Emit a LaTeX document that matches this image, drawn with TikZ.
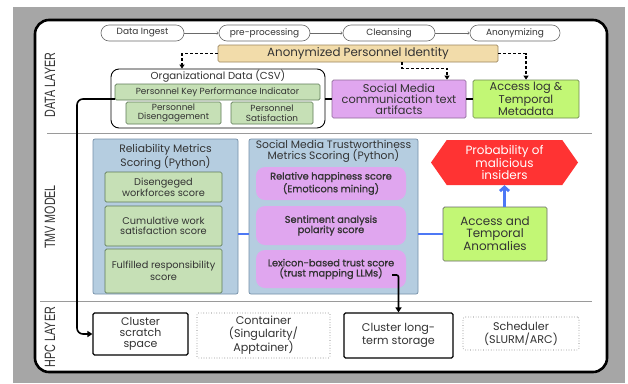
\documentclass[tikz,border=0pt]{standalone}
\usepackage{fontspec}
\setmainfont{Poppins}
\newfontfamily\labelfont{Liberation Sans}
\newfontfamily\popmed[FakeBold=1.2]{Poppins}
\usetikzlibrary{arrows.meta,shapes.symbols}

\definecolor{outergray}{HTML}{A6A6A6}
\definecolor{txt}{HTML}{333333}
\definecolor{pillgray}{HTML}{6A6A6A}
\definecolor{tanfill}{HTML}{F2DCAA}
\definecolor{tanline}{HTML}{9C8660}
\definecolor{sagefill}{HTML}{C6E0B6}
\definecolor{sageline}{HTML}{5F7A58}
\definecolor{lilac}{HTML}{E0A6EF}
\definecolor{lilacline}{HTML}{8E6A98}
\definecolor{lime}{HTML}{C2F775}
\definecolor{limeline}{HTML}{6E8A50}
\definecolor{steel}{HTML}{B5CDE0}
\definecolor{steelline}{HTML}{7590A8}
\definecolor{hexred}{HTML}{FF3333}
\definecolor{linkblue}{HTML}{4D78F5}
\definecolor{sepgray}{HTML}{9A9A9A}

\tikzset{
  pill/.style={draw=pillgray, line width=0.6bp, rounded corners=8bp,
    minimum height=16bp, inner sep=0pt, text=txt,
    font=\fontsize{9}{10}\selectfont},
  pilllink/.style={draw=pillgray, line width=0.6bp, -{Straight Barb[length=1.5bp,width=3bp]}},
  sagebox/.style={draw=sageline, fill=sagefill, line width=0.7bp, rounded corners=1.5bp,
    inner sep=0pt, text=txt, align=center, font=\fontsize{8.9}{9.6}\selectfont},
  tmvsage/.style={sagebox, font=\fontsize{9.8}{10}\selectfont},
  steelbox/.style={draw=steelline, fill=steel, line width=0.7bp, rounded corners=2bp, inner sep=0pt},
  lilacbox/.style={fill=lilac, rounded corners=9bp, inner sep=0pt, text=txt, align=center,
    font=\popmed\fontsize{9.8}{10.2}\selectfont},
  hpcbox/.style={draw=black, line width=1.1bp, rounded corners=1.5bp, inner sep=0pt,
    text=txt, align=center, font=\fontsize{11.2}{12.4}\selectfont},
  hpcdotted/.style={draw=pillgray, dotted, line width=0.6bp, rounded corners=1.5bp, inner sep=0pt,
    text=txt, align=center, font=\fontsize{11.2}{12.4}\selectfont},
  dasharrow/.style={draw=black, line width=1.2bp, dash pattern=on 3bp off 2bp,
    -{Triangle[length=4bp,width=5bp]}},
  blacklink/.style={draw=black, line width=1.3bp},
  bluelink/.style={draw=linkblue, line width=2.2bp},
  layerlabel/.style={rotate=90, text=txt, font=\labelfont\fontsize{15}{15}\selectfont},
}

\begin{document}
\begin{tikzpicture}[x=1bp, y=-1bp]
  \useasboundingbox (0,0) rectangle (628,383);
  % backdrop and main panel
  \fill[white] (0,0) rectangle (628,383);
  \fill[outergray] (13,7) rectangle (625,383);
  \draw[black, line width=2.6bp, fill=white, rounded corners=14bp] (35,20) rectangle (607,372);

  % layer separators
  \draw[sepgray, line width=1bp] (47,133) -- (592,133);
  \draw[sepgray, line width=1bp] (40,301) -- (592,301);

  % layer labels
  \node[layerlabel] (lblData) at (50,85) {\scalebox{0.72}[1]{DATA LAYER}};
  \node[layerlabel] (lblTmv) at (50,217) {\scalebox{0.72}[1]{TMV MODEL}};
  \node[layerlabel] (lblHpc) at (50,337) {\scalebox{0.72}[1]{HPC LAYER}};

  % ---------------- data layer ----------------
  \node[pill, minimum width=83bp] (ingest) at (142.5,33) {Data Ingest};
  \node[pill, minimum width=91bp] (prep) at (264.5,33) {pre-processing};
  \node[pill, minimum width=92bp] (clean) at (389,33) {Cleansing};
  \node[pill, minimum width=90bp] (anonz) at (515,33) {Anonymizing};
  \draw[pilllink] (ingest) -- (prep);
  \draw[pilllink] (prep) -- (clean);
  \draw[pilllink] (clean) -- (anonz);

  \node[draw=tanline, fill=tanfill, line width=0.7bp, rounded corners=1.5bp, inner sep=0pt,
        minimum width=280bp, minimum height=17bp, text=txt,
        font=\fontsize{11.9}{13}\selectfont] (anon) at (358,53.5) {Anonymized Personnel Identity};

  \node[draw=black, line width=0.9bp, rounded corners=8bp, minimum width=214bp,
        minimum height=59bp, inner sep=0pt] (org) at (218,98.5) {};
  \node[text=txt, font=\fontsize{10.2}{11}\selectfont, inner sep=0pt] (orgtitle) at (218,76.5)
        {Organizational Data (CSV)};
  \node[sagebox, minimum width=205bp, minimum height=16bp] (kpi) at (217.5,92)
        {Personnel Key Performance Indicator};
  \node[sagebox, minimum width=95bp, minimum height=22bp] (diseng) at (173.5,113)
        {Personnel\\Disengagement};
  \node[sagebox, minimum width=82bp, minimum height=22bp] (satis) at (272,113)
        {Personnel\\Satisfaction};

  \node[draw=lilacline, fill=lilac, line width=0.7bp, rounded corners=1.5bp, inner sep=0pt,
        minimum width=134bp, minimum height=38bp, text=txt, align=center,
        font=\fontsize{11.4}{11}\selectfont] (social) at (399,99)
        {Social Media\\communication text\\artifacts};
  \node[draw=limeline, fill=lime, line width=0.7bp, rounded corners=1.5bp, inner sep=0pt,
        minimum width=106bp, minimum height=38bp, text=txt, align=center,
        font=\fontsize{11.4}{11}\selectfont] (access) at (526,99)
        {Access log \&\\Temporal\\Metadata};

  \draw[dasharrow] (anon.west) -| ([xshift=-36bp]org.north);
  \draw[dasharrow] ([xshift=44bp]anon.south) -- ++(0,6) -| ([xshift=48bp]social.north);
  \draw[dasharrow] (anon.east) -| (access.north);

  \draw[blacklink] (org.east |- social.west) -- (social.west);
  \draw[blacklink] (social.east) -- (access.west);

  % ---------------- TMV model ----------------
  \node[steelbox, minimum width=145bp, minimum height=155bp] (rel) at (165.5,216.5) {};
  \node[text=txt, align=center, inner sep=0pt, font=\fontsize{10.8}{11}\selectfont]
        (reltitle) at (165.5,156.5) {Reliability Metrics\\Scoring (Python)};
  \node[tmvsage, minimum width=117bp, minimum height=30bp] (dws) at (163.5,187)
        {Disengeged\\workforces score};
  \node[tmvsage, minimum width=117bp, minimum height=40bp] (cws) at (163.5,226)
        {Cumulative work\\satisfaction score};
  \node[tmvsage, minimum width=117bp, minimum height=44bp] (frs) at (163.5,271)
        {Fulfilled responsibility\\[1.5bp]score};

  \node[steelbox, minimum width=169bp, minimum height=155bp] (smt) at (333.5,216.5) {};
  \node[text=txt, align=center, inner sep=0pt, font=\fontsize{10.8}{11}\selectfont]
        (smttitle) at (333.5,151.5) {Social Media Trustworthiness\\Metrics Scoring (Python)};
  \node[lilacbox, minimum width=150bp, minimum height=33bp] (happy) at (331,183.5)
        {Relative happiness score\\(Emoticons mining)};
  \node[lilacbox, minimum width=150bp, minimum height=39bp] (senti) at (331,225.5)
        {Sentiment analysis\\polarity score};
  \node[lilacbox, minimum width=150bp, minimum height=38bp] (lex) at (331,269)
        {Lexicon-based trust score\\(trust mapping LLMs)};

  \node[draw=pillgray, fill=lime, line width=0.7bp, rounded corners=1.5bp, inner sep=0pt,
        minimum width=104bp, minimum height=54bp, text=txt, align=center,
        font=\fontsize{12}{11.6}\selectfont] (anom) at (495,234)
        {Access and\\Temporal\\Anomalies};

  \node[signal, signal to=west and east, signal pointer angle=110, fill=hexred,
        minimum width=147bp, minimum height=45bp, inner sep=0pt, text=white, align=center,
        font=\fontsize{12}{12.4}\selectfont] (prob) at (504.5,162.5)
        {Probability of\\malicious\\insiders};

  \draw[bluelink] (rel.east |- anom.west) -- (smt.west |- anom.west);
  \draw[bluelink] (smt.east |- anom.west) -- (anom.west);
  \draw[draw=linkblue, line width=2.8bp, -{Straight Barb[length=4bp,width=9bp]}]
        (anom.north -| prob.south) -- (prob.south);

  % ---------------- HPC layer ----------------
  \node[hpcbox, minimum width=95bp, minimum height=42bp, font=\fontsize{11}{11}\selectfont]
        (scratch) at (140.5,334) {Cluster\\scratch\\space};
  \node[hpcdotted, minimum width=133bp, minimum height=45bp] (container) at (263.5,335.5)
        {Container\\(Singularity/\\Apptainer)};
  \node[hpcbox, minimum width=109bp, minimum height=45bp, font=\fontsize{11.2}{13}\selectfont]
        (longterm) at (398.5,335.5) {Cluster long-\\term storage};
  \node[hpcdotted, minimum width=116bp, minimum height=33bp, font=\fontsize{11.2}{13}\selectfont]
        (sched) at (521,333.5) {Scheduler\\(SLURM/ARC)};

  % data flows into the cluster
  \coordinate (kpiout) at (115,99);
  \draw[blacklink, line width=1.6bp, rounded corners=6bp, -{Triangle[length=5bp,width=6bp]}]
        (kpiout) -- (77,99) |- (scratch.west);
  \coordinate (lexout) at (392,275);
  \draw[blacklink, line width=1.6bp, rounded corners=2bp, -{Triangle[length=5bp,width=6bp]}]
        (lexout) -| (longterm.north);
\end{tikzpicture}
\end{document}
